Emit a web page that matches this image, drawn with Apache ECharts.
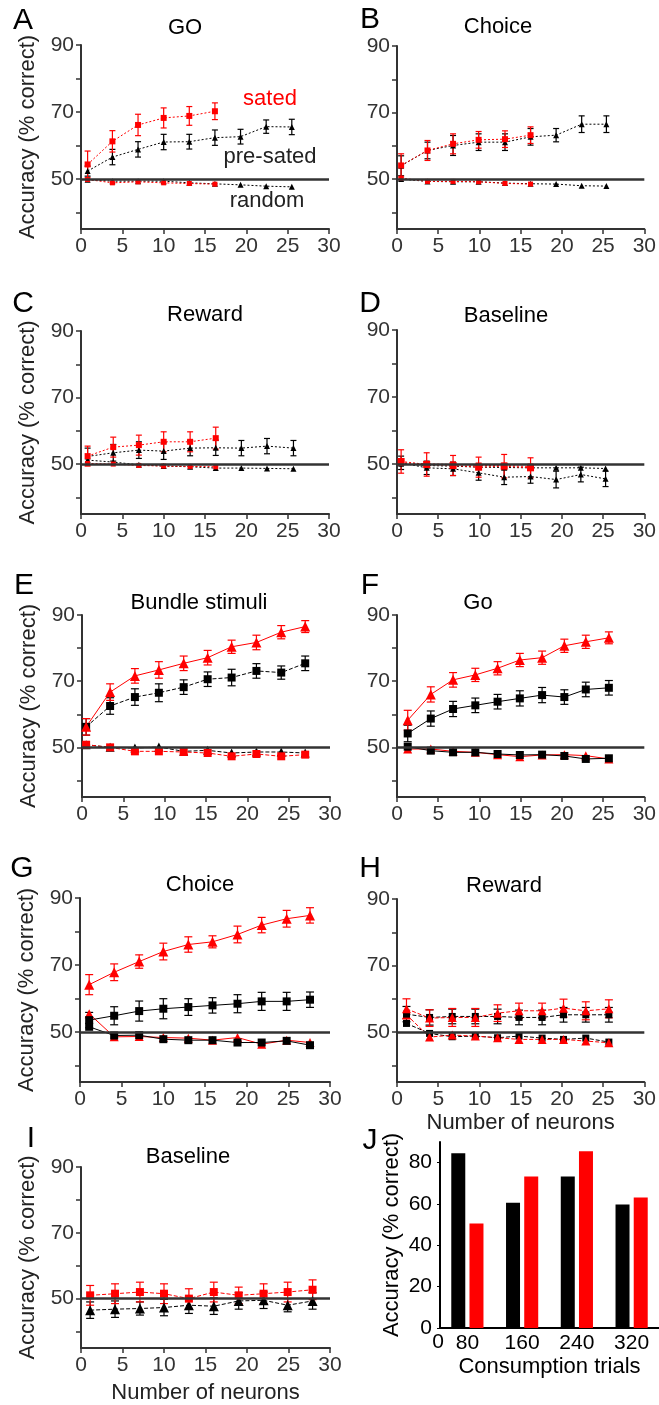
<!DOCTYPE html>
<html>
<head>
<meta charset="UTF-8">
<title>Decoding accuracy</title>
<script src="https://cdn.jsdelivr.net/npm/echarts@6/dist/echarts.min.js"></script>
<style>
  html, body { margin: 0; padding: 0; background: #fff; }
  #main { width: 659px; height: 1405px; }
</style>
</head>
<body>
<div id="main"></div>
<script type="text/javascript">
  // ---- A: GO ----
  var xA = [0.8, 3.8, 6.9, 10, 13.1, 16.2, 19.3, 22.4, 25.5];
  var goPre = [52.3, 56.5, 58.8, 61, 61.1, 62.3, 62.6, 65.6, 65.5];
  var goPreErr = [1.5, 2.3, 2.3, 2.3, 2.2, 2.3, 2.2, 2, 2.3];
  var goSat = [54.3, 61.2, 66.1, 68.2, 68.8, 70.2];
  var goSatErr = [4, 3.2, 3.2, 3, 2.8, 2.5];
  var goPreRnd = [49.7, 49.3, 49.3, 49.3, 48.8, 48.5, 48.2, 47.8, 47.6];
  var goSatRnd = [49.8, 48.8, 49.1, 48.8, 48.6, 48.4];

  // ---- B: Choice ----
  var xB = [0.5, 3.7, 6.8, 9.9, 13.1, 16.2, 19.3, 22.4, 25.4];
  var chPre = [54, 58.6, 60.1, 61.1, 61.1, 62.7, 63.2, 66.5, 66.5];
  var chPreErr = [3, 2.5, 3, 2.5, 2.5, 2.5, 2, 2.5, 2.5];
  var chSat = [54.1, 58.6, 60.6, 61.8, 62, 63.2];
  var chSatErr = [3.5, 3, 3, 2.5, 2.5, 2.5];
  var chPreRnd = [50, 49.3, 49.2, 49.2, 48.8, 48.6, 48.5, 48, 47.9];
  var chSatRnd = [50.3, 49.3, 49.3, 49.2, 48.7, 48.5];

  // ---- C: Reward ----
  var xC = [0.8, 3.9, 7, 10, 13.2, 16.3, 19.4, 22.5, 25.7];
  var rwPre = [52.3, 53.4, 54.2, 53.9, 54.8, 54.9, 54.8, 55.4, 54.8];
  var rwPreErr = [2.5, 2.5, 2.5, 2.5, 2.3, 2.3, 2.3, 2.3, 2.3];
  var rwSat = [52.4, 55.1, 55.7, 56.7, 56.7, 57.8];
  var rwSatErr = [3, 3, 3, 3, 3, 3.3];
  var rwPreRnd = [51.2, 50.6, 49.8, 49.4, 49.2, 48.8, 48.8, 48.7, 48.6];
  var rwSatRnd = [50.2, 50, 49.6, 49.4, 49.3, 49.2];

  // ---- D: Baseline ----
  var xD = [0.5, 3.6, 6.8, 9.9, 13, 16.2, 19.3, 22.3, 25.3];
  var blPre = [50.3, 48.8, 48.5, 47.3, 46, 46.2, 45.3, 46.8, 45.5];
  var blPreErr = [2, 2, 2, 2.2, 2.2, 2, 2.5, 2.2, 2.3];
  var blSat = [50.7, 49.8, 49.5, 49, 49.3, 48.8];
  var blSatErr = [3.5, 3.5, 3, 3, 3.5, 3];
  var blPreRnd = [50, 49.5, 49.3, 49, 48.9, 48.8, 48.8, 48.8, 48.6];
  var blSatRnd = [50.3, 50, 49.8, 49.5, 49.5, 49.2];

  // ---- E: Bundle stimuli ----
  var xE = [0.5, 3.4, 6.4, 9.3, 12.3, 15.2, 18.1, 21.1, 24.1, 27.0];
  var buSat = [56.2, 66.7, 71.6, 73.4, 75.4, 77.1, 80.4, 81.7, 84.8, 86.5];
  var buSatErr = [2.5, 2.5, 2.2, 2.5, 2.2, 2.2, 2, 2.2, 2, 1.8];
  var buPre = [56.2, 62.5, 65.2, 66.5, 68.2, 70.6, 71.1, 73.1, 72.6, 75.4];
  var buPreErr = [2.5, 2.5, 2.5, 2.7, 2.2, 2.2, 2.5, 2.2, 2, 2.2];
  var buPreRnd = [50.8, 50, 49.8, 50.1, 48.8, 49.1, 48.3, 48.6, 48.6, 48.3];
  var buSatRnd = [50.8, 50, 48.8, 48.8, 48.6, 48.3, 47.3, 48, 47.3, 47.8];

  // ---- F: Go ----
  var xF = [1.3, 4.1, 6.8, 9.5, 12.2, 14.9, 17.6, 20.3, 22.9, 25.7];
  var go2Sat = [58.2, 66, 70.4, 71.9, 73.9, 76.4, 77.1, 80.7, 81.9, 83.1];
  var go2SatErr = [3, 2.3, 2.2, 2, 2, 2, 2, 2, 2, 1.8];
  var go2Pre = [54.2, 58.7, 61.6, 62.7, 63.8, 64.8, 65.8, 65.2, 67.5, 68];
  var go2PreErr = [2.5, 2.3, 2.3, 2.2, 2.2, 2.3, 2.3, 2.2, 2.2, 2.2];
  var go2PreRnd = [50.2, 49, 48.5, 48.5, 48, 47.7, 47.8, 47.4, 46.5, 46.7];
  var go2SatRnd = [49.5, 49.5, 48.8, 48.5, 47.8, 47.2, 47.7, 47.8, 47.5, 46.5];

  // ---- G: Choice ----
  var xG = [1.1, 4.1, 7.1, 10, 13, 15.9, 18.9, 21.8, 24.8, 27.6];
  var ch2Sat = [64.1, 67.8, 71, 74, 76.1, 76.9, 79.1, 81.9, 83.8, 84.8];
  var ch2SatErr = [3, 2.5, 2, 2.5, 2.3, 1.8, 2.5, 2.3, 2.5, 2.3];
  var ch2Pre = [53.5, 54.8, 56.2, 56.9, 57.4, 57.9, 58.4, 59.1, 59.1, 59.6];
  var ch2PreErr = [2.3, 2.7, 3, 3, 2.5, 2.3, 2.7, 2.7, 2.7, 2.3];
  var ch2PreRnd = [51.5, 48.9, 49, 47.8, 47.5, 47.5, 46.8, 46.8, 47.3, 46];
  var ch2SatRnd = [55.4, 48.5, 48.6, 48.3, 48.1, 47.5, 48.3, 46.3, 47.5, 46.8];

  // ---- H: Reward ----
  var xH = [1.15, 3.95, 6.7, 9.5, 12.2, 14.8, 17.6, 20.2, 22.9, 25.7];
  var rw2Sat = [57, 54.2, 54.4, 54.4, 55.7, 56.4, 56.4, 57.2, 56.4, 57];
  var rw2SatErr = [3, 2.5, 2.7, 2.7, 2.5, 2.3, 2.3, 2.7, 2.7, 2.7];
  var rw2Pre = [55.4, 54.4, 54.7, 54.7, 54.7, 54.4, 54.4, 55.2, 55.2, 55.2];
  var rw2PreErr = [2.3, 2.3, 2.2, 2.2, 2.2, 2.2, 2.2, 2.2, 2.2, 2.2];
  var rw2PreRnd = [52.6, 49.6, 48.6, 48.8, 48.3, 48.8, 48.2, 47.8, 48.2, 47];
  var rw2SatRnd = [55.2, 48.5, 49.1, 48.8, 48.3, 47.8, 47.8, 47.8, 47.3, 46.8];

  // ---- I: Baseline ----
  var xI = [1.1, 4.1, 7.1, 10, 13, 16, 19, 22, 24.9, 27.9];
  var bl2Sat = [51, 51.5, 52, 51.5, 50, 52, 51, 51.5, 52, 52.7];
  var bl2SatErr = [3, 3, 3, 3, 3, 3, 2.5, 3, 3, 3];
  var bl2Pre = [46.5, 46.8, 47, 47.3, 48, 47.7, 49.3, 49.5, 48, 49.3];
  var bl2PreErr = [2.5, 2.5, 2, 2.5, 2.5, 2.5, 2.5, 2.5, 2, 2.5];

  // ---- J: bars ----
  var trials = ['80', '160', '240', '320'];
  var jPre = [84.5, 60.6, 73.3, 59.8];
  var jSat = [50.6, 73.3, 85.5, 63.2];

  var FONT = "'Liberation Sans', Arial, Helvetica, sans-serif";
  var RED = '#ff0000', BLK = '#000000', AX = '#333333';

  var grids = [], xAxes = [], yAxes = [], series = [], graphic = [];

  function addPanel(rect, leftCol, xName, xGap) {
    var i = grids.length;
    grids.push({ left: rect[0], top: rect[1], width: rect[2], height: rect[3] });
    xAxes.push({
      gridIndex: i, type: 'value', min: 0, max: 30, interval: 5,
      axisLine: { lineStyle: { color: AX, width: 2 } },
      axisTick: { length: 5, lineStyle: { color: AX, width: 1.5 } },
      axisLabel: { color: AX, fontSize: 21, fontFamily: FONT, margin: 7 },
      splitLine: { show: false },
      name: xName || '', nameLocation: 'middle', nameGap: xGap || 30,
      nameTextStyle: { color: '#222', fontSize: 22, fontFamily: FONT }
    });
    yAxes.push({
      gridIndex: i, type: 'value', min: 35, max: 90,
      axisLine: { show: true, lineStyle: { color: AX, width: 2 } },
      axisTick: { show: true, length: 5, customValues: [40, 50, 60, 70, 80, 90], lineStyle: { color: AX, width: 1.5 } },
      axisLabel: { color: AX, fontSize: 21, fontFamily: FONT, margin: 7, customValues: [50, 70, 90] },
      splitLine: { show: false },
      name: leftCol ? 'Accuracy (% correct)' : '', nameLocation: 'middle', nameGap: 42,
      nameTextStyle: { color: '#222', fontSize: 22, fontFamily: FONT }
    });
    // chance level line
    series.push({
      type: 'line', xAxisIndex: i, yAxisIndex: i, data: [], silent: true,
      markLine: {
        silent: true, symbol: 'none', label: { show: false },
        lineStyle: { color: AX, width: 2.5, type: 'solid' },
        data: [{ yAxis: 50 }]
      }
    });
    return i;
  }

  function errRender(color, cap) {
    return function (params, api) {
      var x = api.value(0);
      var a = api.coord([x, api.value(1)]);
      var b = api.coord([x, api.value(2)]);
      var st = { stroke: color, lineWidth: 1.2 };
      return {
        type: 'group', children: [
          { type: 'line', shape: { x1: a[0], y1: a[1], x2: b[0], y2: b[1] }, style: st },
          { type: 'line', shape: { x1: a[0] - cap, y1: a[1], x2: a[0] + cap, y2: a[1] }, style: st },
          { type: 'line', shape: { x1: b[0] - cap, y1: b[1], x2: b[0] + cap, y2: b[1] }, style: st }
        ]
      };
    };
  }

  function addLine(p, xs, ys, errs, color, symbol, size, dash, cap) {
    series.push({
      type: 'line', xAxisIndex: p, yAxisIndex: p, silent: true,
      data: ys.map(function (y, k) { return [xs[k], y]; }),
      symbol: symbol, symbolSize: size, showSymbol: true,
      itemStyle: { color: color },
      lineStyle: { color: color, width: 1, type: dash },
      z: 4
    });
    if (errs) {
      series.push({
        type: 'custom', xAxisIndex: p, yAxisIndex: p, silent: true,
        data: ys.map(function (y, k) { return [xs[k], y - errs[k], y + errs[k]]; }),
        renderItem: errRender(color, cap || 3), z: 3
      });
    }
  }

  var DOT = [2, 2], DASH = [4, 2];

  var pA = addPanel([81, 45, 248, 184], true);
  addLine(pA, xA, goPreRnd, null, BLK, 'triangle', 6, DOT);
  addLine(pA, xA, goSatRnd, null, RED, 'rect', 5, DOT);
  addLine(pA, xA, goPre, goPreErr, BLK, 'triangle', 6, DOT);
  addLine(pA, xA, goSat, goSatErr, RED, 'rect', 6, DOT);

  var pB = addPanel([397, 46, 250, 183], false);
  addLine(pB, xB, chPreRnd, null, BLK, 'triangle', 6, DOT);
  addLine(pB, xB, chSatRnd, null, RED, 'rect', 5, DOT);
  addLine(pB, xB, chPre, chPreErr, BLK, 'triangle', 6, DOT);
  addLine(pB, xB, chSat, chSatErr, RED, 'rect', 6, DOT);

  var pC = addPanel([81, 331, 248, 183], true);
  addLine(pC, xC, rwPreRnd, null, BLK, 'triangle', 6, DOT);
  addLine(pC, xC, rwSatRnd, null, RED, 'rect', 5, DOT);
  addLine(pC, xC, rwPre, rwPreErr, BLK, 'triangle', 6, DOT);
  addLine(pC, xC, rwSat, rwSatErr, RED, 'rect', 6, DOT);

  var pD = addPanel([397, 330, 250, 184], false);
  addLine(pD, xD, blPreRnd, null, BLK, 'triangle', 6, DOT);
  addLine(pD, xD, blPre, blPreErr, BLK, 'triangle', 6, DOT);
  addLine(pD, xD, blSatRnd, null, RED, 'rect', 6, DOT);
  addLine(pD, xD, blSat, blSatErr, RED, 'rect', 7, DOT);

  var pE = addPanel([82, 615, 248, 182], true);
  addLine(pE, xE, buPreRnd, null, BLK, 'triangle', 9, DASH);
  addLine(pE, xE, buSatRnd, null, RED, 'rect', 8, DASH);
  addLine(pE, xE, buPre, buPreErr, BLK, 'rect', 8, DASH, 4);
  addLine(pE, xE, buSat, buSatErr, RED, 'triangle', 10, 'solid', 4);

  var pF = addPanel([397, 615, 250, 182], false);
  addLine(pF, xF, go2SatRnd, null, RED, 'triangle', 9, 'solid');
  addLine(pF, xF, go2PreRnd, null, BLK, 'rect', 8, 'solid');
  addLine(pF, xF, go2Pre, go2PreErr, BLK, 'rect', 8, 'solid', 4);
  addLine(pF, xF, go2Sat, go2SatErr, RED, 'triangle', 10, 'solid', 4);

  var pG = addPanel([80, 898, 250, 184], true);
  addLine(pG, xG, ch2SatRnd, null, RED, 'triangle', 9, 'solid');
  addLine(pG, xG, ch2PreRnd, null, BLK, 'rect', 8, 'solid');
  addLine(pG, xG, ch2Pre, ch2PreErr, BLK, 'rect', 8, 'solid', 4);
  addLine(pG, xG, ch2Sat, ch2SatErr, RED, 'triangle', 10, 'solid', 4);

  var pH = addPanel([397, 899, 250, 183], false, 'Number of neurons', 30);
  addLine(pH, xH, rw2PreRnd, null, BLK, 'rect', 7, DASH);
  addLine(pH, xH, rw2SatRnd, null, RED, 'triangle', 9, DASH);
  addLine(pH, xH, rw2Pre, rw2PreErr, BLK, 'rect', 7, DASH, 4);
  addLine(pH, xH, rw2Sat, rw2SatErr, RED, 'triangle', 9, DASH, 4);

  var pI = addPanel([81, 1167, 249, 181], true, 'Number of neurons', 34);
  addLine(pI, xI, bl2Pre, bl2PreErr, BLK, 'triangle', 10, DASH, 4);
  addLine(pI, xI, bl2Sat, bl2SatErr, RED, 'rect', 8, DASH, 4);

  // ---- J: bar panel ----
  var pJ = grids.length;
  grids.push({ left: 440, top: 1142, width: 226, height: 186 });
  xAxes.push({
    gridIndex: pJ, type: 'category', data: trials,
    axisLine: { lineStyle: { color: BLK, width: 2 } },
    axisTick: { show: false },
    axisLabel: { color: BLK, fontSize: 21, fontFamily: FONT, margin: 5 },
    name: 'Consumption trials', nameLocation: 'middle', nameGap: 28,
    nameTextStyle: { color: BLK, fontSize: 22, fontFamily: FONT }
  });
  yAxes.push({
    gridIndex: pJ, type: 'value', min: 0, max: 90,
    axisLine: { show: true, lineStyle: { color: BLK, width: 2 } },
    axisTick: { show: true, length: 3, customValues: [0, 20, 40, 60, 80], lineStyle: { color: BLK } },
    axisLabel: { color: BLK, fontSize: 21, fontFamily: FONT, margin: 8, customValues: [0, 20, 40, 60, 80] },
    splitLine: { show: false },
    name: 'Accuracy (% correct)', nameLocation: 'middle', nameGap: 37,
    nameTextStyle: { color: BLK, fontSize: 22, fontFamily: FONT }
  });
  series.push({
    type: 'bar', xAxisIndex: pJ, yAxisIndex: pJ, data: jPre, barWidth: 14, barGap: '30%',
    itemStyle: { color: BLK }, silent: true
  });
  series.push({
    type: 'bar', xAxisIndex: pJ, yAxisIndex: pJ, data: jSat, barWidth: 14, barGap: '30%',
    itemStyle: { color: RED }, silent: true
  });

  // ---- text: panel letters, titles, annotations ----
  function txt(x, y, s, size, color) {
    graphic.push({
      type: 'text', x: x, y: y, silent: true,
      style: { text: s, font: size + 'px ' + FONT, fill: color || BLK, align: 'center', verticalAlign: 'middle' }
    });
  }
  var letters = [['A', 23, 21], ['B', 370, 20], ['C', 23, 304], ['D', 370, 304], ['E', 24, 586],
                 ['F', 370, 586], ['G', 22, 869], ['H', 370, 869], ['I', 31, 1139], ['J', 370, 1141]];
  letters.forEach(function (l) { txt(l[1], l[2], l[0], 30); });

  var titles = [['GO', 185, 28], ['Choice', 498, 27], ['Reward', 205, 315], ['Baseline', 506, 316],
                ['Bundle stimuli', 199, 603], ['Go', 478, 603], ['Choice', 200, 885],
                ['Reward', 504, 886], ['Baseline', 188, 1157]];
  titles.forEach(function (t) { txt(t[1], t[2], t[0], 22); });

  txt(270, 99, 'sated', 22, RED);
  txt(270, 157, 'pre-sated', 22, '#222');
  txt(267, 201, 'random', 22, '#222');
  txt(438, 1342, '0', 21, BLK);

  var chart = echarts.init(document.getElementById('main'));
  chart.setOption({
    animation: false,
    backgroundColor: '#ffffff',
    grid: grids,
    xAxis: xAxes,
    yAxis: yAxes,
    series: series,
    graphic: graphic
  });
</script>
</body>
</html>
